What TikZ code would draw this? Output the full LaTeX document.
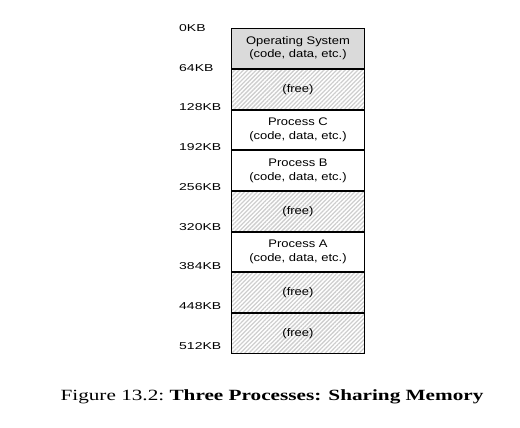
\documentclass[tikz,border=0pt]{standalone}
\usepackage{fontspec}
\newfontfamily\blockfont{Liberation Sans}[FakeStretch=1.18]
\newfontfamily\addrfont{Liberation Sans}[FakeStretch=1.4]
\newfontfamily\captionfont{Liberation Serif}[FakeStretch=1.36]
\usepackage{tikz}
\usetikzlibrary{positioning,patterns.meta}
\definecolor{OSGray}{RGB}{218,218,218}
\definecolor{HatchGray}{RGB}{206,206,206}

\begin{document}
\begin{tikzpicture}[x=1pt,y=-1pt,node distance=0pt,every node/.style={font=\blockfont\fontsize{11}{13.5}\selectfont}]
\tikzset{memblock/.style={draw=black,line width=0.9pt,minimum width=133pt,minimum height=39.75pt,align=center,inner sep=0pt},
  freeblock/.style={memblock,pattern={Lines[angle=45,distance=3pt,line width=1.3pt]},pattern color=HatchGray},
  addr/.style={anchor=west,inner sep=0pt,font=\addrfont\fontsize{10}{11}\selectfont}}
\useasboundingbox (0,0) rectangle (520,428);
\node[memblock,fill=OSGray,anchor=north west] (os) at (231,28) {Operating System\\(code, data, etc.)};
\node[freeblock,below=of os] (free1) {};
\node[memblock,below=of free1] (procC) {Process C\\(code, data, etc.)};
\node[memblock,below=of procC] (procB) {Process B\\(code, data, etc.)};
\node[freeblock,below=of procB] (free2) {};
\node[memblock,below=of free2] (procA) {Process A\\(code, data, etc.)};
\node[freeblock,below=of procA] (free3) {};
\node[freeblock,below=of free3] (free4) {};
% the (free) texts go on top of the hatching
\foreach \b in {free1,free2,free3,free4}
  \node (\b-text) at (\b) {(free)};
% addresses along the left edge
\foreach \kb [count=\i from 0] in {0,64,128,192,256,320,384,448,512}
  \node[addr] (addr\i) at (179,28+\i*39.75) {\kb KB};
\node[font=\captionfont\fontsize{15.6}{17}\selectfont] (caption) at (272,397) {Figure 13.2:\ \textbf{Three Processes: Sharing Memory}};
\end{tikzpicture}
\end{document}
